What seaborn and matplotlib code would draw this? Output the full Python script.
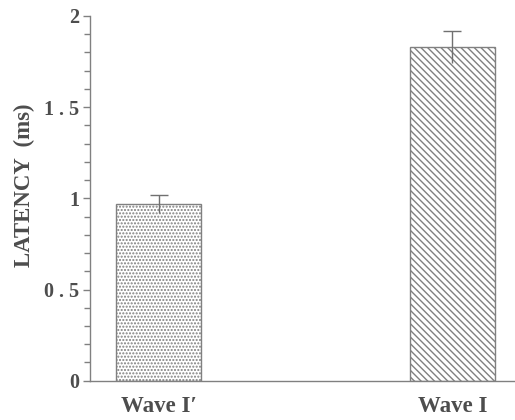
import matplotlib
matplotlib.use("Agg")
import matplotlib.pyplot as plt
import seaborn as sns
import numpy as np
import pandas as pd

categories = ["Wave I\u2032", "Wave I"]
latency = [0.97, 1.83]
errors = [0.05, 0.09]
ytick_values = [0, 0.5, 1, 1.5, 2]
ytick_labels = ["0", "0 . 5", "1", "1 . 5", "2"]
ylabel = "LATENCY  (ms)"

sns.set_theme(style="white")
plt.rcParams["font.family"] = ["Liberation Serif", "DejaVu Serif"]
plt.rcParams["hatch.linewidth"] = 1.0
plt.rcParams["hatch.color"] = "#8a8a8a"

text_color = "#4d4d4d"
line_color = "#808080"

df = pd.DataFrame({"wave": categories, "latency": latency})

fig = plt.figure(figsize=(5.15, 4.2), dpi=100)
ax = fig.add_axes([0.175, 0.0936, 0.825, 0.8684])

sns.barplot(data=df, x="wave", y="latency", ax=ax, width=0.289,
            color="white", edgecolor=line_color, linewidth=1.0, errorbar=None)

hatches = [".....", "\\\\\\\\\\"]
for patch, h in zip(ax.patches, hatches):
    patch.set_hatch(h)
    patch.set_facecolor("white")

eb = ax.errorbar(x=np.arange(len(latency)), y=latency, yerr=errors, fmt="none",
                 ecolor="#707070", elinewidth=1.0, capsize=6.5, capthick=1.0)
caplines = eb[1]
if len(caplines) >= 2:
    caplines[0].set_visible(False)

ax.set_xlim(-0.233, 1.213)
ax.set_ylim(0, 2)
ax.set_yticks(ytick_values)
ax.set_yticklabels(ytick_labels)
ax.set_yticks(np.arange(0, 2.01, 0.1), minor=True)
ax.tick_params(axis="y", which="major", direction="out", length=5, width=1,
               color=line_color, labelsize=14.5, labelcolor=text_color, left=True, pad=3)
ax.tick_params(axis="y", which="minor", direction="out", length=4, width=1,
               color=line_color, left=True)
ax.tick_params(axis="x", length=0, labelsize=16.5, labelcolor=text_color, pad=11)
for lbl in ax.get_yticklabels() + ax.get_xticklabels():
    lbl.set_fontweight("bold")

ax.set_xlabel("")
ax.set_ylabel(ylabel, fontsize=16.5, fontweight="bold", color=text_color)
ax.yaxis.set_label_coords(-0.13, 0.535)

for side in ["top", "right"]:
    ax.spines[side].set_visible(False)
for side in ["left", "bottom"]:
    ax.spines[side].set_color(line_color)
    ax.spines[side].set_linewidth(1.0)

fig.savefig("out.png", dpi=100, facecolor="white")
